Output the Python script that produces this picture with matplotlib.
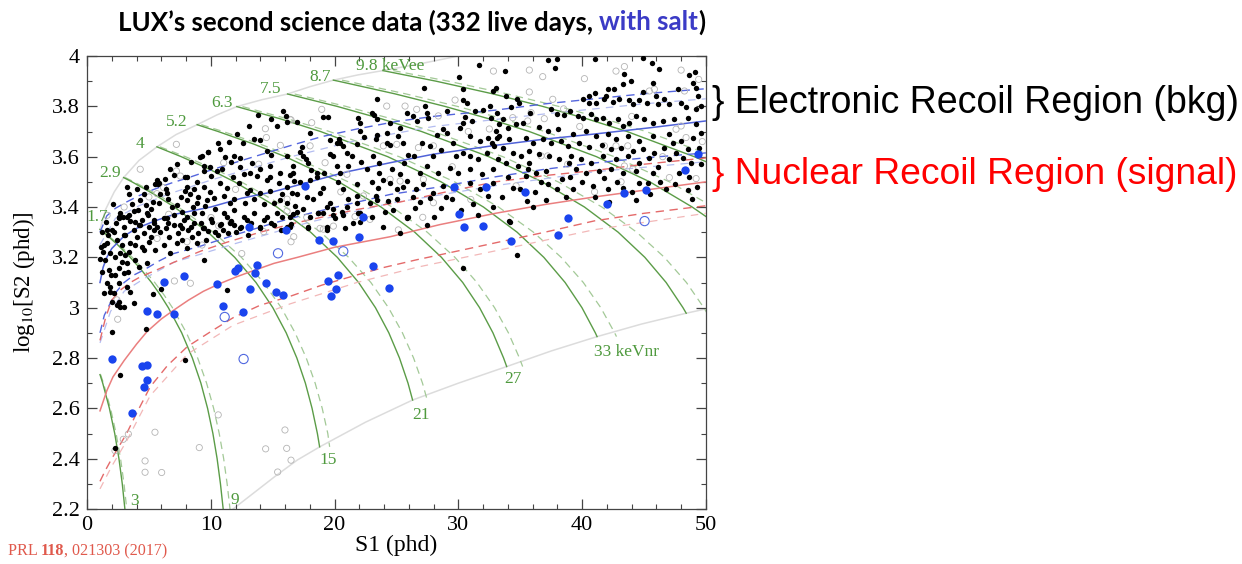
import matplotlib
matplotlib.use('Agg')
import matplotlib.pyplot as plt
from matplotlib.ticker import MultipleLocator, FuncFormatter

# ---- band curves (S1 [phd], log10 S2) ----
er_med_s1 = [1.05, 1.3, 1.6, 2.0, 2.5, 3.0, 4.0, 5.5, 7.0, 8.5, 10, 12.5, 15, 18, 21, 24.5, 28, 33, 37, 41, 45.5, 50]
er_med_log = [3.10, 3.16, 3.20, 3.235, 3.26, 3.285, 3.315, 3.345, 3.37, 3.385, 3.40, 3.435, 3.46, 3.50, 3.54, 3.576, 3.61, 3.645, 3.67, 3.69, 3.715, 3.742]
er_hi_s1 = [1.05, 1.6, 2.3, 3.2, 4.2, 5.4, 6.8, 8.1, 10.2, 13.5, 16.5, 19, 21.8, 25, 28, 33, 37, 41, 45, 50]
er_hi_log = [3.30, 3.365, 3.395, 3.42, 3.445, 3.47, 3.495, 3.515, 3.55, 3.60, 3.645, 3.68, 3.71, 3.74, 3.76, 3.785, 3.81, 3.83, 3.85, 3.87]
er_lo_s1 = [1.05, 1.4, 1.9, 2.4, 3.0, 3.8, 4.6, 5.8, 7.0, 9.2, 12, 15, 18, 21, 24.5, 28.5, 33, 37, 41, 45, 50]
er_lo_log = [2.90, 2.97, 3.02, 3.065, 3.10, 3.13, 3.15, 3.185, 3.215, 3.245, 3.29, 3.335, 3.375, 3.41, 3.45, 3.48, 3.52, 3.55, 3.575, 3.595, 3.615]
er_hi2_s1 = [1.05, 2.3, 4.2, 6.8, 10.2, 16.5, 21.8, 28, 37, 45, 50]
er_hi2_log = [3.25, 3.355, 3.405, 3.455, 3.51, 3.60, 3.665, 3.72, 3.77, 3.81, 3.83]
er_lo2_s1 = [1.05, 1.9, 3.0, 4.6, 7.0, 12, 18, 24.5, 33, 41, 50]
er_lo2_log = [2.86, 2.985, 3.065, 3.115, 3.18, 3.255, 3.34, 3.415, 3.485, 3.54, 3.58]

nr_med_s1 = [1.05, 1.6, 2.1, 3.0, 4.0, 4.85, 6.0, 7.0, 8.2, 9.4, 10.7, 12.1, 13.6, 15.1, 17, 20, 24.5, 28.5, 33, 37, 41, 45.5, 50]
nr_med_log = [2.59, 2.67, 2.725, 2.79, 2.855, 2.905, 2.955, 2.99, 3.03, 3.065, 3.095, 3.123, 3.15, 3.176, 3.20, 3.24, 3.282, 3.33, 3.375, 3.41, 3.44, 3.47, 3.50]
nr_hi_s1 = [1.05, 1.5, 2.0, 2.7, 3.5, 4.4, 5.4, 7.0, 9.2, 11.3, 14, 16.7, 19, 21.8, 25.3, 29, 33, 37, 41, 45, 50]
nr_hi_log = [2.87, 2.96, 3.03, 3.07, 3.10, 3.125, 3.145, 3.18, 3.225, 3.26, 3.30, 3.335, 3.36, 3.39, 3.42, 3.46, 3.50, 3.525, 3.545, 3.57, 3.595]
nr_lo_s1 = [1.05, 1.5, 2.0, 2.6, 3.2, 4.0, 5.1, 6.5, 8.1, 10, 11.8, 14, 16.4, 19, 21.8, 24, 26.6, 30.4, 33.4, 37, 41, 45, 50]
nr_lo_log = [2.31, 2.355, 2.40, 2.45, 2.50, 2.58, 2.685, 2.77, 2.845, 2.905, 2.96, 3.01, 3.045, 3.09, 3.13, 3.16, 3.19, 3.23, 3.262, 3.30, 3.345, 3.375, 3.405]
nr_lo2_s1 = [1.05, 2.0, 3.2, 5.1, 8.1, 11.8, 16.4, 21.8, 26.6, 33.4, 41, 50]
nr_lo2_log = [2.28, 2.37, 2.47, 2.65, 2.815, 2.93, 3.015, 3.10, 3.16, 3.23, 3.31, 3.375]

# ---- analysis region boundaries ----
upper_edge_s1 = [1.05, 1.5, 2.2, 2.96, 4.2, 5.65, 7.2, 8.9, 10.5, 12.1, 14.1, 16.2, 18, 19.9, 21.9, 23.9, 27, 30]
upper_edge_log = [3.31, 3.39, 3.46, 3.517, 3.585, 3.639, 3.688, 3.727, 3.766, 3.799, 3.826, 3.849, 3.878, 3.904, 3.925, 3.942, 3.97, 4.0]
lower_edge_s1 = [11.8, 13.5, 15.2, 17, 18.8, 22.5, 26.3, 30, 33.9, 37.5, 41.2, 44.8, 48.4, 50]
lower_edge_log = [2.2, 2.265, 2.33, 2.395, 2.447, 2.545, 2.633, 2.70, 2.766, 2.828, 2.885, 2.935, 2.978, 2.995]

# ---- energy contours: solid and dashed companion ----
c0_log = [2.734, 2.7, 2.6, 2.5, 2.4, 2.3, 2.2]
c0_s1 = [1.05, 1.27, 1.81, 2.24, 2.58, 2.85, 3.06]
c0_s1d = [1.10, 1.33, 1.90, 2.35, 2.71, 2.99, 3.21]
c1_log = [3.311, 3.3, 3.25, 3.2, 3.15, 3.1, 3.05, 3.0, 2.9, 2.8, 2.7, 2.6, 2.5, 2.4, 2.3, 2.2]
c1_s1 = [1.05, 1.33, 2.47, 3.49, 4.39, 5.21, 5.93, 6.57, 7.65, 8.51, 9.20, 9.74, 10.17, 10.51, 10.78, 11.0]
c1_s1d = [1.10, 1.40, 2.59, 3.66, 4.61, 5.47, 6.23, 6.90, 8.03, 8.94, 9.66, 10.23, 10.68, 11.04, 11.32, 11.55]
c2_log = [3.517, 3.5, 3.45, 3.4, 3.3, 3.2, 3.1, 3.0, 2.9, 2.8, 2.7, 2.6, 2.5, 2.447]
c2_s1 = [2.96, 3.63, 5.44, 7.05, 9.77, 11.93, 13.65, 15.01, 16.09, 16.95, 17.64, 18.18, 18.61, 18.79]
c2_s1d = [3.09, 3.79, 5.68, 7.37, 10.21, 12.47, 14.26, 15.69, 16.81, 17.71, 18.43, 19.0, 19.45, 19.6]
c3_log = [3.639, 3.6, 3.55, 3.5, 3.4, 3.3, 3.2, 3.1, 3.0, 2.9, 2.8, 2.7, 2.633]
c3_s1 = [5.65, 7.61, 9.89, 11.92, 15.34, 18.06, 20.22, 21.94, 23.30, 24.38, 25.24, 25.93, 26.30]
c3_s1d = [5.90, 7.95, 10.34, 12.46, 16.03, 18.87, 21.13, 22.93, 24.35, 25.48, 26.38, 27.10, 27.48]
c4_log = [3.727, 3.7, 3.65, 3.6, 3.5, 3.4, 3.3, 3.2, 3.1, 3.0, 2.9, 2.8, 2.766]
c4_s1 = [8.9, 10.59, 13.47, 16.02, 20.33, 23.75, 26.47, 28.63, 30.35, 31.71, 32.79, 33.65, 33.9]
c4_s1d = [9.24, 10.99, 13.98, 16.63, 21.10, 24.65, 27.48, 29.72, 31.50, 32.92, 34.04, 34.93, 35.19]
c5_log = [3.799, 3.75, 3.7, 3.6, 3.5, 3.4, 3.3, 3.2, 3.1, 3.0, 2.9, 2.885]
c5_s1 = [12.1, 15.64, 18.86, 24.29, 28.60, 32.02, 34.74, 36.90, 38.62, 39.98, 41.06, 41.2]
c5_s1d = [12.56, 16.23, 19.58, 25.21, 29.69, 33.24, 36.06, 38.30, 40.09, 41.50, 42.62, 42.77]
c6_log = [3.849, 3.8, 3.75, 3.7, 3.6, 3.5, 3.4, 3.3, 3.2, 3.1, 3.0, 2.978]
c6_s1 = [16.2, 20.19, 23.8, 27.02, 32.45, 36.76, 40.18, 42.9, 45.06, 46.78, 48.14, 48.4]
c6_s1d = [16.77, 20.9, 24.63, 27.97, 33.59, 38.05, 41.59, 44.40, 46.64, 48.42, 49.82, 50.09]
c7_log = [3.904, 3.9, 3.85, 3.8, 3.75, 3.7, 3.6, 3.5, 3.4, 3.362]
c7_s1 = [19.9, 20.29, 24.84, 28.89, 32.5, 35.72, 41.15, 45.46, 48.88, 50.0]
c7_s1d = [20.6, 21.0, 25.71, 29.9, 33.64, 36.97, 42.59, 47.05, 50.59, 51.75]
c8_log = [3.942, 3.9, 3.85, 3.8, 3.75, 3.7, 3.6, 3.58]
c8_s1 = [23.9, 28.19, 32.74, 36.79, 40.4, 43.62, 49.05, 50.0]
c8_s1d = [24.74, 29.18, 33.89, 38.08, 41.81, 45.15, 50.77, 51.75]

kevee_labels = ['1.7', '2.9', '4', '5.2', '6.3', '7.5', '8.7', '9.8 keVee']
kevee_s1 = [0.81, 1.88, 4.31, 7.22, 10.9, 14.81, 18.82, 24.48]
kevee_log = [3.36, 3.536, 3.649, 3.739, 3.815, 3.87, 3.918, 3.96]
kevnr_labels = ['3', '9', '15', '21', '27', '33 keVnr']
kevnr_s1 = [3.82, 11.9, 19.5, 26.95, 34.38, 43.6]
kevnr_log = [2.233, 2.236, 2.395, 2.574, 2.718, 2.825]

# ---- events ----
black_pts = [
    (15.35, 3.72), (13.47, 3.67), (14.0, 3.666), (12.58, 3.653), (14.54, 3.623), (14.89, 3.607), (9.29, 3.603),
    (10.77, 3.632), (9.75, 3.619), (11.12, 3.60), (11.85, 3.603), (12.39, 3.596), (13.33, 3.576), (14.0, 3.55),
    (14.76, 3.563), (16.16, 3.603), (15.62, 3.534), (16.43, 3.529), (9.43, 3.563), (9.48, 3.543), (10.5, 3.543),
    (10.9, 3.55), (11.63, 3.579), (12.39, 3.56), (12.66, 3.53), (13.73, 3.523), (14.54, 3.507), (15.48, 3.497),
    (16.16, 3.481), (16.7, 3.503), (10.02, 3.523), (8.08, 3.521), (8.89, 3.50), (5.52, 3.49), (5.79, 3.497),
    (6.33, 3.513), (7.06, 3.526), (7.94, 3.464), (8.62, 3.473), (9.48, 3.48), (10.77, 3.494), (11.31, 3.474),
    (12.25, 3.497), (13.2, 3.468), (14.0, 3.455), (14.81, 3.464), (15.75, 3.45), (16.56, 3.457), (10.23, 3.437),
    (11.04, 3.444), (11.85, 3.433), (12.79, 3.417), (13.47, 3.431), (14.27, 3.411), (15.08, 3.417), (16.16, 3.417),
    (16.83, 3.402), (3.37, 3.45), (4.04, 3.47), (4.31, 3.428), (4.79, 3.408), (5.17, 3.391), (5.79, 3.417),
    (6.52, 3.431), (7.27, 3.408), (8.08, 3.428), (8.89, 3.415), (9.56, 3.402), (10.37, 3.394), (11.04, 3.375),
    (11.85, 3.388), (12.66, 3.362), (13.47, 3.375), (14.54, 3.362), (15.35, 3.375), (16.43, 3.362), (2.1, 3.411),
    (2.69, 3.378), (3.23, 3.362), (3.77, 3.383), (4.44, 3.349), (4.9, 3.368), (5.44, 3.338), (6.19, 3.357),
    (7.06, 3.37), (7.81, 3.349), (8.62, 3.375), (9.21, 3.335), (10.02, 3.351), (10.83, 3.331), (11.63, 3.345),
    (12.44, 3.322), (13.25, 3.338), (14.0, 3.318), (14.87, 3.335), (15.67, 3.309), (16.48, 3.331), (2.37, 3.338),
    (3.02, 3.322), (3.77, 3.309), (4.63, 3.296), (5.44, 3.309), (6.41, 3.317), (7.32, 3.298), (8.13, 3.309),
    (8.94, 3.296), (9.75, 3.304), (10.56, 3.29), (11.36, 3.298), (2.59, 3.357), (3.45, 3.343), (4.2, 3.33),
    (5.01, 3.322), (6.52, 3.338), (7.49, 3.33), (8.4, 3.322), (9.37, 3.317),
    (4.8, 3.48), (5.76, 3.49), (7.9, 3.52), (9.1, 3.60), (9.8, 3.62), (10.6, 3.653), (3.2, 3.48), (6.7, 3.55),
    (7.3, 3.57), (8.4, 3.58), (11.5, 3.66), (12.1, 3.69), (13.1, 3.72), (14.9, 3.75), (15.8, 3.78), (16.1, 3.76),
    (2.56, 3.362), (3.37, 3.368), (3.9, 3.342), (4.31, 3.328), (4.85, 3.375), (5.39, 3.348), (5.66, 3.322),
    (6.46, 3.355), (7.0, 3.328), (7.68, 3.315), (8.08, 3.362), (8.62, 3.335), (9.29, 3.375), (9.43, 3.315),
    (10.1, 3.342), (10.77, 3.328), (11.31, 3.362), (11.85, 3.328), (12.39, 3.315), (12.93, 3.348), (14.27, 3.348),
    (15.08, 3.328), (15.75, 3.362), (16.43, 3.322), (2.02, 3.309), (2.42, 3.269), (2.96, 3.289), (3.5, 3.256),
    (4.04, 3.282), (4.44, 3.242), (4.98, 3.262), (5.52, 3.229), (6.19, 3.249), (6.73, 3.216), (7.27, 3.256),
    (8.08, 3.236), (8.89, 3.256), (9.43, 3.189), (1.62, 3.256), (1.89, 3.216), (2.69, 3.216), (3.37, 3.223),
    (1.48, 3.189), (2.56, 3.156), (3.23, 3.176), (3.9, 3.189), (1.08, 3.192), (2.96, 3.136), (4.85, 3.176),
    (1.89, 3.083), (2.15, 3.057), (3.5, 3.064), (2.56, 3.024), (2.96, 3.004), (2.02, 3.024), (2.69, 3.004),
    (3.77, 3.017), (4.79, 2.915), (2.05, 2.905), (7.94, 2.792), (2.69, 2.733), (7.67, 3.381), (11.58, 3.335),
    (14.0, 3.322), (1.86, 3.064), (2.4, 3.01), (3.2, 3.083), (5.3, 3.054), (5.95, 3.073), (11.28, 3.07),
    (2.26, 2.444), (1.2, 3.30), (1.35, 3.25), (1.5, 3.34), (1.7, 3.29), (1.25, 3.14), (1.75, 3.15), (2.25, 3.20),
    (2.8, 3.25), (1.4, 3.06), (3.1, 3.21), (1.15, 3.24), (2.3, 3.13),
    (1.6, 3.31), (2.2, 3.30), (2.9, 3.36), (3.6, 3.41), (4.1, 3.39), (4.6, 3.45), (5.3, 3.42), (5.9, 3.45),
    (6.4, 3.47), (6.9, 3.40), (7.6, 3.44), (8.3, 3.45), (8.6, 3.40), (9.0, 3.44), (9.9, 3.46), (3.1, 3.29),
    (3.9, 3.25), (4.6, 3.23), (5.2, 3.28), (5.9, 3.30), (6.6, 3.28), (7.7, 3.27), (8.5, 3.28), (9.6, 3.27),
    (10.3, 3.30), (11.0, 3.31), (12.0, 3.30), (13.0, 3.29), (1.3, 3.22), (1.9, 3.13), (2.6, 3.10), (3.3, 3.14),
    (4.2, 3.16), (1.6, 3.10), (2.8, 3.18),
    (16.67, 3.372), (16.94, 3.381), (17.88, 3.322), (18.69, 3.375), (19.09, 3.375), (19.36, 3.322), (19.9, 3.368),
    (20.04, 3.355), (20.57, 3.381), (21.92, 3.375), (22.06, 3.342), (24.08, 3.381), (25.88, 3.359), (30.4, 3.159),
    (34.17, 3.342), (34.71, 3.209),
    (13.84, 3.766), (16.13, 3.739), (22.05, 3.733), (23.0, 3.772), (17.34, 3.64), (20.17, 3.653), (20.98, 3.613),
    (9.94, 3.56), (11.82, 3.52), (13.17, 3.534), (14.78, 3.52), (16.66, 3.534), (18.55, 3.52), (20.44, 3.534),
    (23.93, 3.507), (25.55, 3.48), (26.36, 3.44), (8.05, 3.48), (5.63, 3.507), (6.44, 3.454), (9.67, 3.428),
    (11.55, 3.415), (12.9, 3.454), (15.59, 3.428), (17.75, 3.441), (19.36, 3.40), (21.78, 3.415), (23.4, 3.428),
    (24.74, 3.388), (18.0, 3.362), (16.13, 3.322), (19.36, 3.309), (21.5, 3.335), (23.93, 3.322), (25.95, 3.362),
    (25.28, 3.296),
    (31.67, 3.963), (30.08, 3.918), (27.25, 3.874), (30.35, 3.868), (23.46, 3.828), (30.4, 3.825), (30.67, 3.812),
    (32.83, 3.861), (19.09, 3.759), (19.5, 3.759), (21.92, 3.754), (16.99, 3.739), (23.19, 3.764), (23.46, 3.748),
    (24.48, 3.735), (25.83, 3.775), (26.36, 3.762), (27.31, 3.801), (27.44, 3.775), (27.58, 3.755), (26.63, 3.742),
    (29.06, 3.782), (30.54, 3.759), (31.08, 3.742), (30.4, 3.735), (31.35, 3.782), (31.97, 3.786), (32.56, 3.801),
    (32.64, 3.755), (33.1, 3.775), (28.79, 3.709), (29.06, 3.695), (28.25, 3.685), (30.13, 3.715), (30.94, 3.682),
    (31.75, 3.662), (32.42, 3.676), (32.69, 3.656), (33.1, 3.676), (25.29, 3.715), (24.26, 3.693), (23.46, 3.688),
    (25.15, 3.682), (24.21, 3.653), (22.06, 3.702), (22.38, 3.68), (20.39, 3.672), (20.44, 3.653), (19.63, 3.666),
    (18.02, 3.693), (17.21, 3.619), (17.48, 3.603), (17.69, 3.59), (17.88, 3.574), (19.63, 3.609), (19.9, 3.603),
    (20.66, 3.643), (21.79, 3.649), (21.38, 3.603), (23.35, 3.672), (23.13, 3.603), (23.62, 3.576), (24.48, 3.645),
    (25.56, 3.653), (25.96, 3.605), (26.42, 3.603), (25.61, 3.576), (27.04, 3.656), (27.71, 3.643), (27.98, 3.603),
    (28.57, 3.627), (29.6, 3.653), (29.81, 3.603), (30.4, 3.616), (30.94, 3.603), (31.62, 3.59), (32.29, 3.616),
    (32.88, 3.643), (33.23, 3.59), (16.67, 3.563), (18.07, 3.547), (18.55, 3.534), (19.15, 3.537), (20.17, 3.563),
    (21.11, 3.563), (22.11, 3.579), (22.59, 3.55), (23.62, 3.537), (24.61, 3.55), (25.29, 3.53), (26.9, 3.537),
    (27.44, 3.563), (28.38, 3.537), (29.33, 3.556), (30.0, 3.537), (30.94, 3.55), (31.88, 3.53), (32.83, 3.55),
    (17.21, 3.50), (18.02, 3.507), (19.09, 3.477), (20.3, 3.50), (20.71, 3.47), (21.79, 3.49), (22.99, 3.50),
    (23.54, 3.477), (24.48, 3.494), (25.02, 3.47), (25.83, 3.503), (26.58, 3.473), (27.17, 3.49), (27.93, 3.457),
    (28.79, 3.484), (30.94, 3.494), (31.75, 3.47), (32.83, 3.497), (16.94, 3.451), (18.29, 3.431), (18.82, 3.457),
    (19.63, 3.417), (21.11, 3.431), (21.79, 3.444), (23.35, 3.444), (25.83, 3.358), (26.5, 3.398), (27.71, 3.437),
    (17.48, 3.391), (18.69, 3.378), (19.9, 3.391), (20.71, 3.367), (22.06, 3.378), (22.86, 3.417), (19.36, 3.318),
    (17.88, 3.318), (20.84, 3.318), (29.5, 3.43), (31.2, 3.41), (28.6, 3.395), (32.4, 3.445), (24.3, 3.425),
    (26.9, 3.42), (28.0, 3.36), (29.0, 3.44), (30.2, 3.39), (31.6, 3.37), (32.8, 3.40), (27.5, 3.33), (23.0, 3.36),
    (21.0, 3.40), (25.0, 3.43),
    (37.21, 3.984), (37.97, 3.989), (41.06, 3.987), (44.89, 3.993), (45.64, 3.974), (33.79, 3.94), (37.83, 3.954),
    (46.24, 3.947), (49.12, 3.938), (48.66, 3.923), (43.41, 3.927), (43.95, 3.901), (43.27, 3.887), (42.6, 3.868),
    (42.06, 3.868), (41.06, 3.854), (41.93, 3.841), (40.53, 3.841), (40.1, 3.828), (40.58, 3.815), (41.12, 3.815),
    (41.74, 3.828), (42.52, 3.817), (43.0, 3.828), (43.81, 3.824), (44.08, 3.808), (44.62, 3.825), (45.21, 3.815),
    (46.1, 3.808), (46.64, 3.828), (47.04, 3.808), (47.99, 3.815), (48.39, 3.799), (49.2, 3.788), (49.6, 3.801),
    (49.33, 3.841), (48.93, 3.894), (49.2, 3.874), (47.72, 3.868), (45.7, 3.894), (45.97, 3.841), (44.89, 3.857),
    (33.85, 3.841), (34.71, 3.828), (34.87, 3.815), (34.25, 3.799), (33.04, 3.874), (35.79, 3.775), (37.48, 3.788),
    (37.94, 3.768), (38.56, 3.764), (39.02, 3.782), (39.64, 3.762), (40.1, 3.755), (40.72, 3.768), (41.12, 3.748),
    (41.66, 3.755), (42.2, 3.735), (42.87, 3.748), (43.27, 3.722), (43.81, 3.735), (44.35, 3.762), (45.02, 3.748),
    (45.7, 3.735), (46.5, 3.742), (47.45, 3.748), (48.53, 3.755), (49.2, 3.729), (33.58, 3.748), (33.26, 3.729),
    (33.98, 3.715), (34.66, 3.729), (35.25, 3.735), (36.54, 3.719), (37.21, 3.702), (38.02, 3.709), (39.23, 3.689),
    (40.31, 3.702), (41.12, 3.682), (42.06, 3.689), (42.73, 3.669), (43.68, 3.682), (44.62, 3.662), (45.7, 3.682),
    (47.04, 3.689), (47.99, 3.662), (48.93, 3.676), (49.6, 3.695), (33.04, 3.702), (33.31, 3.682), (34.12, 3.669),
    (35.46, 3.676), (36.0, 3.656), (36.81, 3.669), (37.48, 3.653), (38.29, 3.662), (38.83, 3.643), (39.77, 3.656),
    (40.58, 3.64), (41.6, 3.645), (42.33, 3.629), (43.14, 3.636), (44.08, 3.623), (44.89, 3.632), (45.83, 3.616),
    (46.64, 3.636), (47.58, 3.616), (48.53, 3.629), (49.47, 3.636), (33.58, 3.636), (34.39, 3.616), (35.06, 3.603),
    (35.73, 3.623), (36.54, 3.609), (37.35, 3.603), (38.16, 3.59), (39.1, 3.603), (39.91, 3.59), (40.72, 3.576),
    (41.66, 3.603), (42.73, 3.59), (43.68, 3.603), (44.62, 3.576), (45.43, 3.596), (44.62, 3.497), (45.29, 3.497),
    (47.04, 3.59), (48.12, 3.596), (48.79, 3.576), (33.85, 3.576), (34.79, 3.563), (35.6, 3.55), (35.73, 3.576),
    (36.27, 3.534), (37.08, 3.543), (39.5, 3.55), (40.31, 3.537), (41.39, 3.543), (42.33, 3.55), (43.27, 3.537),
    (44.35, 3.543), (45.7, 3.537), (47.85, 3.537), (48.61, 3.521), (38.96, 3.576), (35.46, 3.523), (34.39, 3.477),
    (37.21, 3.49), (39.23, 3.47), (40.85, 3.484), (42.06, 3.47), (43.27, 3.477), (46.77, 3.47), (48.53, 3.468),
    (44.35, 3.428), (37.08, 3.428), (35.52, 3.424), (34.12, 3.345), (36.2, 3.46), (38.4, 3.51), (46.1, 3.56),
    (49.6, 3.57), (41.8, 3.515), (47.3, 3.655),
    (34.0, 3.52), (35.0, 3.47), (36.7, 3.50), (38.0, 3.47), (39.0, 3.52), (40.0, 3.50), (41.0, 3.44), (42.8, 3.50),
    (44.0, 3.46), (45.5, 3.45), (46.3, 3.50), (47.5, 3.49), (48.9, 3.43), (49.3, 3.48), (36.0, 3.40), (38.7, 3.44),
    (42.2, 3.42), (33.5, 3.44),
]

gray_pts = [
    (7.22, 3.649), (14.41, 3.711), (14.49, 3.676), (16.48, 3.746), (15.62, 3.645), (13.87, 3.57), (11.04, 3.576),
    (7.22, 3.543), (7.54, 3.523), (8.29, 3.464), (5.65, 3.453), (6.6, 3.371), (10.64, 3.325), (10.02, 3.358),
    (11.63, 3.338), (16.16, 3.431), (1.62, 3.367), (6.19, 3.477), (16.16, 3.384),
    (18.96, 3.788), (24.21, 3.801), (25.69, 3.801), (26.63, 3.788), (28.38, 3.762), (29.73, 3.825), (32.83, 3.94),
    (16.4, 3.748), (18.15, 3.735), (19.23, 3.576), (23.94, 3.643), (25.02, 3.649), (26.77, 3.636), (27.98, 3.643),
    (24.48, 3.51), (25.29, 3.503), (27.17, 3.51), (27.98, 3.417), (19.09, 3.312), (22.86, 3.351), (18.02, 3.643),
    (22.32, 3.444),
    (35.73, 3.944), (36.81, 3.918), (40.18, 3.91), (42.73, 3.94), (43.41, 3.958), (47.99, 3.944), (49.41, 3.907),
    (35.73, 3.857), (37.62, 3.828), (45.43, 3.861), (45.83, 3.868), (48.26, 3.861), (35.87, 3.775), (35.6, 3.742),
    (36.94, 3.751), (34.39, 3.755), (36.68, 3.603), (37.21, 3.603), (41.79, 3.643), (42.73, 3.643), (43.68, 3.643),
    (47.99, 3.722), (48.39, 3.676), (47.58, 3.709), (43.41, 3.563), (44.08, 3.55), (38.83, 3.57), (43.14, 3.5),
    (34.66, 3.484), (47.04, 3.517), (49.2, 3.513),
    (5.66, 3.275), (7.06, 3.106), (8.35, 3.097), (9.29, 3.249), (8.08, 3.262), (14.27, 3.302), (16.48, 3.262),
    (16.7, 3.282), (2.48, 2.954), (2.42, 3.031), (17.75, 3.359), (18.82, 3.315), (19.9, 3.324), (21.65, 3.362),
    (25.15, 3.309), (27.12, 3.359),
    (3.34, 2.498), (2.93, 2.477), (2.26, 2.432), (4.69, 2.391), (4.69, 2.346), (6.03, 2.345), (5.49, 2.505),
    (9.07, 2.444), (10.6, 2.574), (14.43, 2.439), (15.99, 2.514), (16.13, 2.441), (16.48, 2.394), (15.4, 2.347),
    (4.3, 3.55), (3.0, 3.40), (5.0, 3.44), (12.0, 3.47), (20.5, 3.46), (21.0, 3.53), (29.5, 3.56), (31.0, 3.43),
    (32.5, 3.71), (30.8, 3.70), (39.8, 3.72), (38.5, 3.79), (46.5, 3.60), (41.0, 3.46), (44.0, 3.76), (49.7, 3.66),
    (12.5, 3.215),
]

blue_pts = [
    (13.06, 3.322), (16.07, 3.309), (11.98, 3.147), (12.17, 3.156), (13.73, 3.17), (13.54, 3.139), (7.86, 3.126),
    (6.25, 3.102), (10.5, 3.093), (14.46, 3.099), (13.19, 3.074), (15.27, 3.062), (15.8, 3.049), (4.87, 2.988),
    (5.68, 2.974), (7.05, 2.976), (10.96, 3.007), (12.6, 2.982), (2.02, 2.795), (4.44, 2.768), (4.85, 2.772),
    (4.85, 2.713), (4.63, 2.686), (3.66, 2.58), (22.3, 3.362), (30.05, 3.372), (30.45, 3.322), (32.0, 3.325),
    (18.77, 3.27), (19.9, 3.265), (21.97, 3.28), (23.13, 3.166), (20.25, 3.131), (19.44, 3.106), (20.1, 3.073),
    (19.73, 3.048), (24.37, 3.078), (35.38, 3.46), (43.35, 3.457), (45.15, 3.468), (41.98, 3.41), (38.85, 3.356),
    (48.33, 3.546), (49.38, 3.612), (38.04, 3.29), (34.25, 3.266), (17.6, 3.483), (29.67, 3.481), (32.2, 3.481),
]
blue_open_pts = [(15.43, 3.216), (11.12, 2.963), (12.65, 2.796), (20.7, 3.224), (45.04, 3.344)]

GREEN = '#5b9c47'
GREEN_DASH = '#a3c997'
LABEL_GREEN = '#4f9a3e'

plt.rcParams['font.family'] = 'Liberation Serif'
plt.rcParams['mathtext.fontset'] = 'stix'

W, H = 1242, 564
fig = plt.figure(figsize=(W / 100, H / 100), dpi=100)
ax = fig.add_axes([87 / W, 1 - 509 / H, (706 - 87) / W, (509 - 56) / H])

# boundaries of the analysis region
ax.plot(upper_edge_s1, upper_edge_log, color='#dcdcdc', lw=1.1, zorder=1)
ax.plot(lower_edge_s1, lower_edge_log, color='#dcdcdc', lw=1.1, zorder=1)

# energy contours
contours = [(c0_s1, c0_s1d, c0_log), (c1_s1, c1_s1d, c1_log), (c2_s1, c2_s1d, c2_log),
            (c3_s1, c3_s1d, c3_log), (c4_s1, c4_s1d, c4_log), (c5_s1, c5_s1d, c5_log),
            (c6_s1, c6_s1d, c6_log), (c7_s1, c7_s1d, c7_log), (c8_s1, c8_s1d, c8_log)]
for s1, s1d, lg in contours:
    ax.plot(s1d, lg, color=GREEN_DASH, lw=0.9, dashes=(6, 4), zorder=2)
    ax.plot(s1, lg, color=GREEN, lw=1.0, zorder=2)

for t, x, y in zip(kevee_labels, kevee_s1, kevee_log):
    ax.text(x, y, t, color=LABEL_GREEN, fontsize=12.5, ha='center', va='center', zorder=6)
for t, x, y in zip(kevnr_labels, kevnr_s1, kevnr_log):
    ax.text(x, y, t, color=LABEL_GREEN, fontsize=12.5, ha='center', va='center', zorder=6)

# ER band (blue) and NR band (red)
ax.plot(er_hi2_s1, er_hi2_log, color='#b4bdf0', lw=0.9, dashes=(6, 5), zorder=3)
ax.plot(er_lo2_s1, er_lo2_log, color='#b4bdf0', lw=0.9, dashes=(6, 5), zorder=3)
ax.plot(nr_lo2_s1, nr_lo2_log, color='#f2b8b8', lw=0.9, dashes=(6, 5), zorder=3)
ax.plot(er_hi_s1, er_hi_log, color='#5566dd', lw=1.0, dashes=(6, 4), zorder=3)
ax.plot(er_lo_s1, er_lo_log, color='#5566dd', lw=1.0, dashes=(6, 4), zorder=3)
ax.plot(er_med_s1, er_med_log, color='#5062d8', lw=1.1, zorder=3)
ax.plot(nr_hi_s1, nr_hi_log, color='#e46a6a', lw=1.0, dashes=(6, 4), zorder=3)
ax.plot(nr_lo_s1, nr_lo_log, color='#e46a6a', lw=1.0, dashes=(6, 4), zorder=3)
ax.plot(nr_med_s1, nr_med_log, color='#ea7f7f', lw=1.1, zorder=3)

# events
gx, gy = zip(*gray_pts)
ax.scatter(gx, gy, s=20, facecolors='none', edgecolors='#b4b4b4', linewidths=0.6, zorder=4)
bx, by = zip(*black_pts)
ax.scatter(bx, by, s=15, color='black', linewidths=0, zorder=5)
ux, uy = zip(*blue_pts)
ax.scatter(ux, uy, s=36, color='#1a44ee', linewidths=0, zorder=5)
ox, oy = zip(*blue_open_pts)
ax.scatter(ox, oy, s=44, facecolors='none', edgecolors='#5068e0', linewidths=0.8, zorder=5)

ax.set_xlim(0, 50)
ax.set_ylim(2.2, 4.0)
ax.xaxis.set_major_locator(MultipleLocator(10))
ax.xaxis.set_minor_locator(MultipleLocator(2))
ax.yaxis.set_major_locator(MultipleLocator(0.2))
ax.yaxis.set_minor_locator(MultipleLocator(0.1))
fmt = FuncFormatter(lambda v, p: f'{v:g}')
ax.xaxis.set_major_formatter(fmt)
ax.yaxis.set_major_formatter(fmt)
ax.tick_params(which='both', direction='in', top=True, right=True, color='#444444')
ax.tick_params(which='major', length=7, width=0.9, labelsize=16, pad=5)
ax.tick_params(which='minor', length=3.5, width=0.8)
for lab in ax.get_xticklabels() + ax.get_yticklabels():
    lab.set_fontfamily('Liberation Serif')
for sp in ax.spines.values():
    sp.set_color('#444444')
    sp.set_linewidth(0.9)
ax.set_xlabel('S1 (phd)', fontsize=17, labelpad=0)
ax.set_ylabel(r'log$_{10}$[S2 (phd)]', fontsize=16.5)
ax.yaxis.set_label_coords(-0.081, 0.5)


def fit_runs(runs, left_px, cy_px, width_px, family, size=12.0):
    """Place coloured text pieces side by side, scaled to a given pixel width."""
    rend = fig.canvas.get_renderer()
    texts = [fig.text(0, 0, s, color=c, family=family, fontweight=w, fontsize=size,
                      ha='left', va='center') for s, c, w in runs]
    total = sum(t.get_window_extent(rend).width for t in texts)
    size = size * width_px / total
    x = left_px
    for t in texts:
        t.set_fontsize(size)
        t.set_position((x / W, 1 - cy_px / H))
        x += t.get_window_extent(rend).width
    return size


fit_runs([('LUX\u2019s second science data (332 live days, ', 'black', 'bold'),
          ('with salt', '#3b3bc6', 'bold'), (')', 'black', 'bold')],
         118, 22, 588, 'Lato', 16)
fit_runs([('PRL ', '#e0594c', 'normal'), ('118', '#e0594c', 'bold'),
          (', 021303 (2017)', '#e0594c', 'normal')],
         8, 551, 160, 'Liberation Serif', 10)
sz = fit_runs([('} Electronic Recoil Region (bkg)', 'black', 'normal')],
              712, 103, 525, 'Liberation Sans', 22)
fit_runs([('} Nuclear Recoil Region (signal)', '#ff0000', 'normal')],
         712, 175, 525, 'Liberation Sans', sz)

fig.savefig('out.png', dpi=100)
